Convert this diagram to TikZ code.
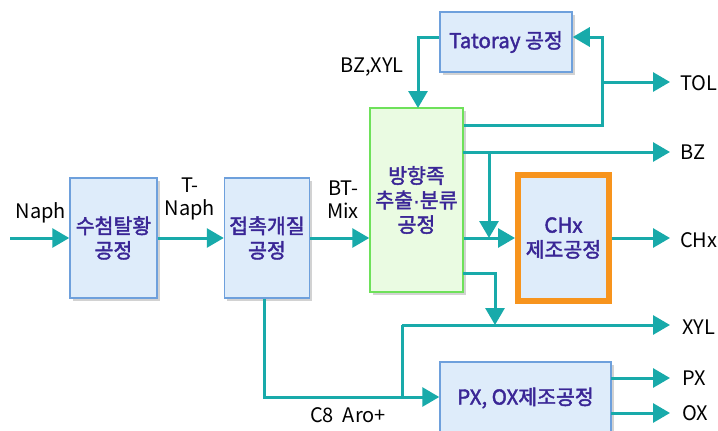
\documentclass[tikz,border=0pt]{standalone}
\usepackage{fontspec}
\setmainfont{Noto Sans CJK KR}
\newfontfamily\boxfont{Noto Sans CJK KR}[FakeBold=2]
\newfontfamily\latinf{Liberation Sans}[FakeBold=2]
\usetikzlibrary{arrows.meta,shadows}
\definecolor{teal1}{RGB}{24,170,170}
\definecolor{boxfill}{RGB}{222,236,250}
\definecolor{boxline}{RGB}{110,160,220}
\definecolor{gfill}{RGB}{234,251,226}
\definecolor{gline}{RGB}{110,225,90}
\definecolor{orng}{RGB}{247,148,29}
\definecolor{ink}{RGB}{58,38,150}
\tikzset{
  flow/.style={draw=teal1, line width=3pt},
  arr/.style={flow, -{Triangle[length=17pt,width=19pt]}},
  procbox/.style={draw=boxline, line width=1.5pt, fill=boxfill, inner sep=0pt,
    align=center, text=ink, font=\fontsize{20.5}{24.5}\boxfont,
    drop shadow={shadow xshift=2.5pt, shadow yshift=-2.5pt, fill=black!35}},
  greenbox/.style={procbox, draw=gline, fill=gfill},
  orangebox/.style={draw=orng, line width=6pt, fill=boxfill, inner sep=0pt,
    align=center, text=ink, font=\fontsize{20.5}{24.5}\boxfont},
  lab/.style={inner sep=0pt, align=center, text=black, font=\fontsize{20}{23}\selectfont},
}
\begin{document}
\begin{tikzpicture}[x=1pt,y=-1pt]
\useasboundingbox (0,0) rectangle (718,431);
\fill[white] (0,0) rectangle (718,431);

% boxes
\node[procbox, minimum width=87pt, minimum height=120pt] (B1) at (113.5,238) {수첨탈황\\공정};
\node[procbox, minimum width=85pt, minimum height=120pt] (B2) at (267,238) {접촉개질\\공정};
\node[greenbox, minimum width=93pt, minimum height=184pt] (G) at (416.5,200) {방향족\\추출{\latinf ·}분류\\공정};
\node[procbox, minimum width=132pt, minimum height=60pt] (T) at (506,42) {Tatoray 공정};
\node[orangebox, minimum width=91pt, minimum height=126pt] (C) at (563.5,238) {CHx\\제조공정};
\node[procbox, minimum width=171pt, minimum height=72pt] (P) at (525.5,398) {PX, OX제조공정};

% coordinates
\coordinate (nin) at (10,238);
\coordinate (tolR) at (602,125);
\coordinate (tolT) at (602,37);
\coordinate (tolB) at (602,82);
\coordinate (tolE) at (670,82);
\coordinate (bzS) at (463,152);
\coordinate (bzJ) at (489,152);
\coordinate (bzD) at (489,238);
\coordinate (bzE) at (670,152);
\coordinate (bxL) at (418,37);
\coordinate (bxT) at (418,108);
\coordinate (chE) at (670,238);
\coordinate (xyS) at (463,273);
\coordinate (xyJ) at (495,273);
\coordinate (xyD) at (495,325);
\coordinate (xyL) at (402,325);
\coordinate (xyE) at (670,325);
\coordinate (c8D) at (264,397);
\coordinate (c8J) at (402,397);
\coordinate (pxS) at (611,378);
\coordinate (pxE) at (670,378);
\coordinate (oxS) at (611,413);
\coordinate (oxE) at (670,413);

% connectors
\draw[arr] (nin) -- (B1.west |- nin);
\draw[arr] (B1.east) -- (B2.west);
\draw[arr] (B2.east) -- (B2.east -| G.west);
\draw[arr] (C.west -| G.east) -- (C.west);
\draw[arr] (bzS) -- (bzE);
\draw[arr] (bzJ) -- (bzD);
\draw[arr] (tolR -| G.east) -- (tolR) -- (tolT) -- (tolT -| T.east);
\draw[arr] (tolB) -- (tolE);
\draw[arr] (bxL -| T.west) -- (bxL) -- (bxT);
\draw[arr] (C.east) -- (chE);
\draw[arr] (xyS) -- (xyJ) -- (xyD);
\draw[arr] (xyL) -- (xyE);
\draw[arr] (B2.south -| c8D) -- (c8D) -- (c8D -| P.west);
\draw[flow] (c8J) -- (xyL);
\draw[arr] (pxS) -- (pxE);
\draw[arr] (oxS) -- (oxE);

% labels
\node[lab] (lNaph) at (41,213) {Naph};
\node[lab] (lTN) at (190,199) {T-\\Naph};
\node[lab] (lBT) at (343,200) {BT-\\Mix};
\node[lab] (lBX) at (372,67) {BZ,XYL};
\node[lab, anchor=west] (lTOL) at (680,83) {TOL};
\node[lab, anchor=west] (lBZ) at (680,152) {BZ};
\node[lab, anchor=west] (lCH) at (680,240) {CHx};
\node[lab, anchor=west] (lXY) at (682,327) {XYL};
\node[lab, anchor=west] (lPX) at (682,378) {PX};
\node[lab, anchor=west] (lOX) at (682,413) {OX};
\node[lab] (lC8) at (348,415) {C8\ \ Aro+};
\end{tikzpicture}
\end{document}
